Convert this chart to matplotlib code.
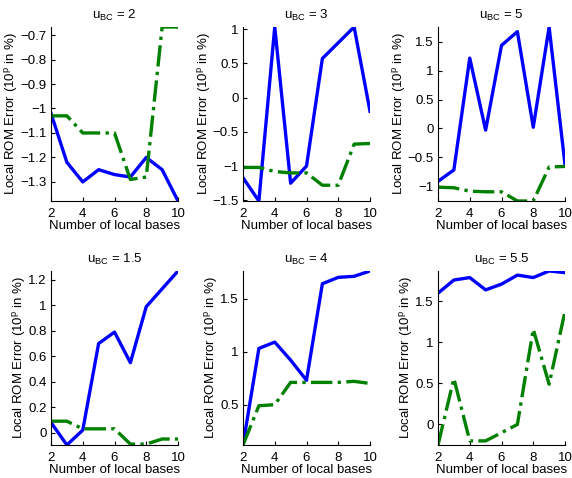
import numpy as np
import matplotlib.pyplot as plt
from matplotlib.ticker import FuncFormatter

plt.rcParams['font.family'] = ['Liberation Sans', 'DejaVu Sans']
plt.rcParams['mathtext.fontset'] = 'custom'
plt.rcParams['mathtext.rm'] = 'Liberation Sans'

# numero de bases locais
bases = [2, 3, 4, 5, 6, 7, 8, 9, 10]

# valores de u_BC de cada painel
u_bc = ['2', '3', '5', '1.5', '4', '5.5']

# erro (linha azul continua)
azul_2 = [-1.02, -1.22, -1.30, -1.25, -1.27, -1.28, -1.20, -1.25, -1.378]
azul_3 = [-1.17, -1.51, 1.03, -1.25, -1.00, 0.57, 0.80, 1.03, -0.20]
azul_5 = [-0.92, -0.72, 1.22, -0.03, 1.44, 1.68, 0.02, 1.76, -0.63]
azul_15 = [0.08, -0.097, 0.02, 0.70, 0.79, 0.55, 0.99, 1.13, 1.27]
azul_4 = [0.12, 1.03, 1.09, 0.92, 0.73, 1.64, 1.70, 1.71, 1.76]
azul_55 = [1.60, 1.76, 1.79, 1.64, 1.71, 1.82, 1.79, 1.87, 1.85]

# erro (linha verde traco-ponto)
verde_2 = [-1.03, -1.03, -1.10, -1.10, -1.10, -1.29, -1.28, -0.667, -0.667]
verde_3 = [-1.02, -1.02, -1.08, -1.10, -1.10, -1.28, -1.28, -0.68, -0.67]
verde_5 = [-1.02, -1.03, -1.09, -1.10, -1.10, -1.26, -1.26, -0.67, -0.66]
verde_15 = [0.09, 0.09, 0.03, 0.03, 0.03, -0.09, -0.09, -0.05, -0.05]
verde_4 = [0.12, 0.49, 0.50, 0.71, 0.71, 0.71, 0.71, 0.72, 0.70]
verde_55 = [-0.25, 0.56, -0.20, -0.20, -0.10, 0.00, 1.16, 0.49, 1.38]

azuis = [azul_2, azul_3, azul_5, azul_15, azul_4, azul_55]
verdes = [verde_2, verde_3, verde_5, verde_15, verde_4, verde_55]

# ticks do eixo y de cada painel
yticks = [
    [-1.3, -1.2, -1.1, -1.0, -0.9, -0.8, -0.7],
    [-1.5, -1.0, -0.5, 0.0, 0.5, 1.0],
    [-1.0, -0.5, 0.0, 0.5, 1.0, 1.5],
    [0.0, 0.2, 0.4, 0.6, 0.8, 1.0, 1.2],
    [0.5, 1.0, 1.5],
    [0.0, 0.5, 1.0, 1.5],
]

W, H = 572, 478
fig = plt.figure(figsize=(W / 100, H / 100), dpi=100)

lefts = [51, 243, 438]
tops = [27, 271]
largura = 127
altura = 174

fmt = FuncFormatter(lambda v, p: ('%g' % round(v, 4)).replace('-', '\u2212'))

for i in range(6):
    lin, col = divmod(i, 3)
    ax = fig.add_axes([lefts[col] / W, 1 - (tops[lin] + altura) / H, largura / W, altura / H])
    ax.plot(bases, azuis[i], '-', color=(0, 0, 1), lw=2.4)
    ax.plot(bases, verdes[i], '-.', color=(0, 0.5, 0), lw=2.4)
    todos = azuis[i] + verdes[i]
    ax.set_xlim(2, 10)
    ax.set_ylim(min(todos), max(todos))
    ax.set_xticks([2, 4, 6, 8, 10])
    ax.set_yticks(yticks[i])
    ax.yaxis.set_major_formatter(fmt)
    ax.spines['top'].set_visible(False)
    ax.spines['right'].set_visible(False)
    ax.tick_params(direction='in', length=3, labelsize=9.5)
    ax.tick_params(axis='x', pad=5)
    ax.tick_params(axis='y', pad=3)
    ax.set_title(r'u$_{\mathrm{BC}}$ = ' + u_bc[i], fontsize=9.5)
    ax.set_xlabel('Number of local bases', fontsize=9.5, labelpad=0)
    ax.set_ylabel(r'Local ROM Error (10$^{\mathrm{p}}$ in %)', fontsize=9.5, labelpad=0)

fig.savefig('out.png', dpi=100)
